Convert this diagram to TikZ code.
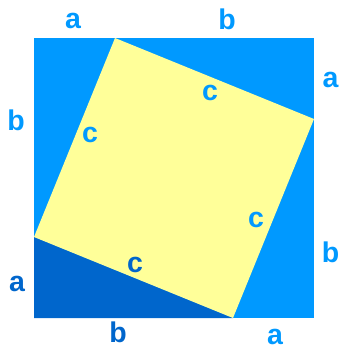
\documentclass[tikz,border=0pt]{standalone}
\usepackage{fontspec}
\setmainfont{Liberation Sans}
\definecolor{lblue}{HTML}{0099FF}
\definecolor{dblue}{HTML}{0066CC}
\definecolor{lyellow}{HTML}{FFFF99}
\begin{document}
\begin{tikzpicture}[x=1pt,y=-1pt,
  lbl/.style={inner sep=0pt,font=\fontsize{28.5}{28.5}\selectfont\bfseries,text=lblue},
  dlbl/.style={lbl,text=dblue}]
\useasboundingbox (0,0) rectangle (340,351);
\coordinate (TL) at (34,38);
\coordinate (TR) at (314,38);
\coordinate (BR) at (314,318);
\coordinate (BL) at (34,318);
\coordinate (P1) at (115,38);
\coordinate (P2) at (314,119);
\coordinate (P3) at (233,318);
\coordinate (P4) at (34,237);
\fill[lblue] (TL) rectangle (BR);
\fill[dblue] (P4) -- (P3) -- (BL) -- cycle;
\fill[lyellow] (P1) -- (P2) -- (P3) -- (P4) -- cycle;
\node[lbl] (la1) at (73,21) {a};
\node[lbl] (lb1) at (227,19) {b};
\node[lbl] (la2) at (330.5,80) {a};
\node[lbl] (lb2) at (16,120) {b};
\node[lbl] (lc1) at (90,135) {c};
\node[lbl] (lc2) at (210,93) {c};
\node[lbl] (lc3) at (256,220) {c};
\node[dlbl] (lc4) at (135,265) {c};
\node[dlbl] (la3) at (17,284) {a};
\node[dlbl] (lb3) at (118,332) {b};
\node[lbl] (la4) at (275,337) {a};
\node[lbl] (lb4) at (330.5,252) {b};
\end{tikzpicture}
\end{document}
